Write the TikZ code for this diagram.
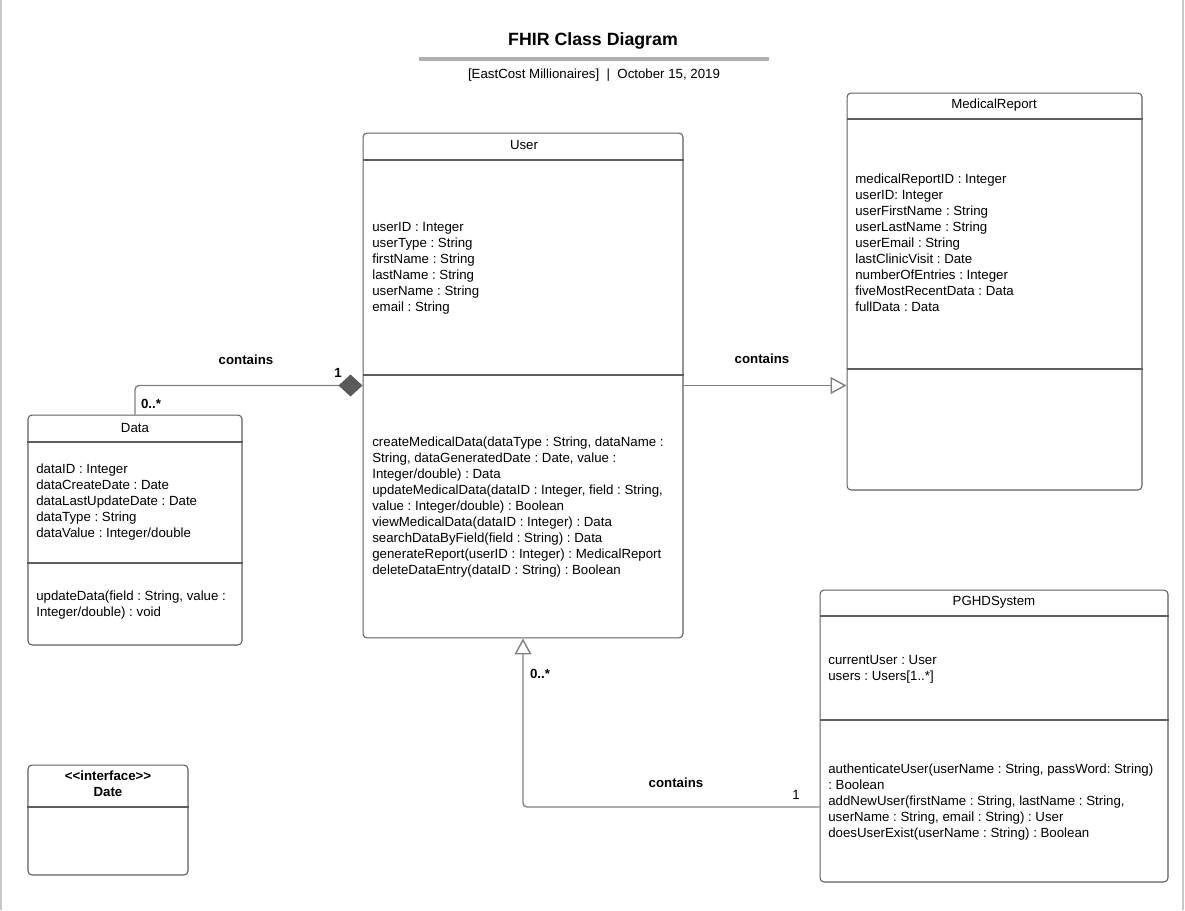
\documentclass[tikz,border=0pt]{standalone}
\usepackage{fontspec}
\setmainfont{Liberation Sans}
\usetikzlibrary{arrows.meta}
\frenchspacing

\definecolor{boxgray}{HTML}{5E5E5E}
\definecolor{linegray}{HTML}{808080}
\definecolor{diagray}{HTML}{5A5A5A}
\definecolor{rulegray}{HTML}{B0B0B0}
\definecolor{edgegray}{HTML}{C8C8C8}

\begin{document}
\begin{tikzpicture}[x=0.02cm,y=-0.02cm,
  class box/.style={rectangle,rounded corners=0.08cm,draw=boxgray,line width=0.6pt,inner sep=0},
  div line/.style={draw=boxgray,line width=0.6pt},
  class title/.style={font=\fontsize{7.55}{9.07}\selectfont},
  member/.style={anchor=north west,align=left,inner sep=0,font=\fontsize{7.55}{9.07}\selectfont},
  conn/.style={draw=linegray,line width=0.8pt,rounded corners=0.08cm},
  rel label/.style={font=\fontsize{7.55}{9.07}\selectfont\bfseries}]

  \useasboundingbox (0,0) rectangle (1185,910);
  \draw[edgegray,line width=0.8pt] (1,0) -- (1,910);
  \draw[edgegray,line width=0.8pt] (1183,0) -- (1183,910);

  % title block
  \node[font=\fontsize{10.1}{12}\selectfont\bfseries] (title) at (593,41) {FHIR Class Diagram};
  \draw[rulegray,line width=2pt] (419,59) -- (769,59);
  \node[font=\fontsize{7.55}{9.07}\selectfont] (subtitle) at (594,75) {[EastCost Millionaires]~~|~~October 15, 2019};

  % classes
  \node[class box,minimum width=6.4cm,minimum height=10.1cm] (user) at (523,385.5) {};
  \node[class box,minimum width=5.9cm,minimum height=7.94cm] (medrep) at (994.5,291.5) {};
  \node[class box,minimum width=4.28cm,minimum height=4.6cm] (data) at (135,530) {};
  \node[class box,minimum width=6.96cm,minimum height=5.84cm] (pghd) at (994,736) {};
  \node[class box,minimum width=3.2cm,minimum height=2.2cm] (date) at (108,820) {};

  \draw[div line] (user.west |- 0,160) -- (user.east |- 0,160);
  \draw[div line] (user.west |- 0,375) -- (user.east |- 0,375);
  \draw[div line] (medrep.west |- 0,119) -- (medrep.east |- 0,119);
  \draw[div line] (medrep.west |- 0,369) -- (medrep.east |- 0,369);
  \draw[div line] (data.west |- 0,442) -- (data.east |- 0,442);
  \draw[div line] (data.west |- 0,563) -- (data.east |- 0,563);
  \draw[div line] (pghd.west |- 0,616) -- (pghd.east |- 0,616);
  \draw[div line] (pghd.west |- 0,720) -- (pghd.east |- 0,720);
  \draw[div line] (date.west |- 0,807) -- (date.east |- 0,807);

  \node[class title] (usertitle) at (524,145) {User};
  \node[class title] (medreptitle) at (994,105) {MedicalReport};
  \node[class title] (datatitle) at (135,428) {Data};
  \node[class title] (pghdtitle) at (994,602) {PGHDSystem};
  \node[class title,font=\fontsize{7.55}{9.07}\selectfont\bfseries,align=center] (datetitle) at (108,784)
    {{<}{<}interface{>}{>}\\Date};

  \node[member] (userattr) at (372,222) {userID : Integer\\userType : String\\firstName : String\\
    lastName : String\\userName : String\\email : String};
  \node[member] (userops) at (372,437) {createMedicalData(dataType : String, dataName :\\
    String, dataGeneratedDate : Date, value :\\Integer/double) : Data\\
    updateMedicalData(dataID : Integer, field : String,\\value : Integer/double) : Boolean\\
    viewMedicalData(dataID : Integer) : Data\\searchDataByField(field : String) : Data\\
    generateReport(userID : Integer) : MedicalReport\\deleteDataEntry(dataID : String) : Boolean};
  \node[member] (medrepattr) at (855,174) {medicalReportID : Integer\\userID: Integer\\
    userFirstName : String\\userLastName : String\\userEmail : String\\lastClinicVisit : Date\\
    numberOfEntries : Integer\\fiveMostRecentData : Data\\fullData : Data};
  \node[member] (dataattr) at (36,464) {dataID : Integer\\dataCreateDate : Date\\
    dataLastUpdateDate : Date\\dataType : String\\dataValue : Integer/double};
  \node[member] (dataops) at (36,591) {updateData(field : String, value :\\Integer/double) : void};
  \node[member] (pghdattr) at (828,655) {currentUser : User\\users : Users[1..*]};
  \node[member] (pghdops) at (828,764) {authenticateUser(userName : String, passWord: String)\\
    : Boolean\\addNewUser(firstName : String, lastName : String,\\
    userName : String, email : String) : User\\doesUserExist(userName : String) : Boolean};

  % relations
  \draw[conn,-{Diamond[length=0.48cm,width=0.44cm,fill=diagray,color=diagray]}]
    (data.north) |- (user.west);
  \draw[conn,-{Triangle[open,length=0.32cm,width=0.34cm,fill=white]}]
    (user.east) -- (user.east -| medrep.west);
  \draw[conn,-{Triangle[open,length=0.32cm,width=0.34cm,fill=white]}]
    ([yshift=-1.42cm]pghd.west) -| (user.south);

  \node[rel label] (datacontains) at (246,360) {contains};
  \node[rel label] (dataone) at (338,373) {1};
  \node[rel label] (datamany) at (151,404) {0..*};
  \node[rel label] (repcontains) at (762,359) {contains};
  \node[rel label] (syscontains) at (676,783) {contains};
  \node[rel label,font=\fontsize{7.55}{9.07}\selectfont] (sysone) at (796,795) {1};
  \node[rel label] (sysmany) at (540,674) {0..*};

\end{tikzpicture}
\end{document}
